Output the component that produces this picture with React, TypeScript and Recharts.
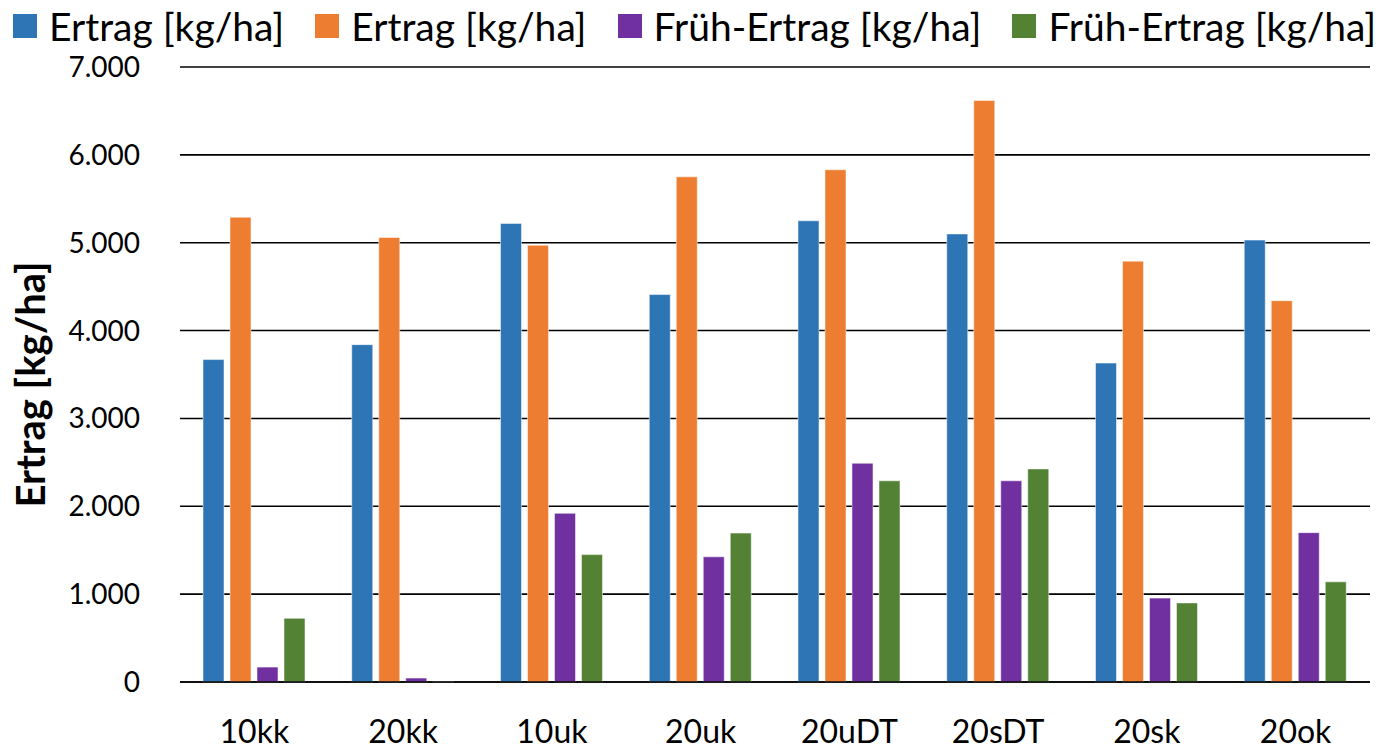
import {
  BarChart,
  Bar,
  CartesianGrid,
  XAxis,
  YAxis,
} from "recharts";

const categories = ["10kk", "20kk", "10uk", "20uk", "20uDT", "20sDT", "20sk", "20ok"];
const ertragA = [3670, 3840, 5220, 4410, 5250, 5100, 3630, 5030];
const ertragB = [5290, 5060, 4970, 5750, 5830, 6620, 4790, 4340];
const fruehA = [170, 45, 1920, 1425, 2490, 2290, 955, 1700];
const fruehB = [725, 8, 1450, 1695, 2290, 2425, 900, 1140];
const yTicks = [0, 1000, 2000, 3000, 4000, 5000, 6000, 7000];

const series = [
  { key: "ertragA", name: "Ertrag [kg/ha]", color: "#2E75B6" },
  { key: "ertragB", name: "Ertrag [kg/ha]", color: "#ED7D31" },
  { key: "fruehA", name: "Früh-Ertrag [kg/ha]", color: "#7030A0" },
  { key: "fruehB", name: "Früh-Ertrag [kg/ha]", color: "#548235" },
];

const data = categories.map((name, i) => ({
  name,
  ertragA: ertragA[i],
  ertragB: ertragB[i],
  fruehA: fruehA[i],
  fruehB: fruehB[i],
}));

const FONT = "Lato, 'Noto Sans', sans-serif";

const formatDe = (v: number) =>
  String(v).replace(/\B(?=(\d{3})+(?!\d))/g, ".");

const YTitle = (props: any) => {
  const { viewBox } = props;
  const cx = viewBox.x + 30;
  const cy = viewBox.y + viewBox.height / 2 + 10;
  return (
    <text
      x={cx}
      y={cy}
      transform={`rotate(-90, ${cx}, ${cy})`}
      textAnchor="middle"
      dominantBaseline="central"
      fontFamily={FONT}
      fontWeight="bold"
      fontSize={40}
      fill="#000"
    >
      Ertrag [kg/ha]
    </text>
  );
};

export default function App() {
  return (
    <div style={{ position: "absolute", left: 0, top: 0, width: 1379, height: 749, background: "#fff" }}>
      <div
        style={{
          position: "absolute",
          top: 3,
          left: 13,
          display: "flex",
          alignItems: "center",
          fontFamily: FONT,
          fontSize: 39,
          color: "#000",
          whiteSpace: "nowrap",
        }}
      >
        {series.map((s) => (
          <div key={s.key} style={{ display: "flex", alignItems: "center", marginRight: 31 }}>
            <span style={{ display: "inline-block", width: 24, height: 24, background: s.color, marginRight: 12 }} />
            <span>{s.name}</span>
          </div>
        ))}
      </div>
      <BarChart
        width={1379}
        height={749}
        data={data}
        margin={{ top: 67, right: 9, bottom: 0, left: 0 }}
        barSize={21}
        barGap={6}
      >
        <CartesianGrid vertical={false} stroke="#000" strokeWidth={1.6} />
        <XAxis
          dataKey="name"
          height={67}
          tickLine={false}
          axisLine={{ stroke: "#000", strokeWidth: 1.6 }}
          tickSize={0}
          tickMargin={38}
          tick={{ fontFamily: FONT, fontSize: 32, fill: "#000" }}
        />
        <YAxis
          width={180}
          domain={[0, 7000]}
          ticks={yTicks}
          interval={0}
          tickLine={false}
          axisLine={false}
          tickSize={0}
          tickMargin={40}
          tickFormatter={formatDe}
          tick={{ fontFamily: FONT, fontSize: 28, fill: "#000" }}
          label={<YTitle />}
        />
        {series.map((s) => (
          <Bar
            key={s.key}
            dataKey={s.key}
            name={s.name}
            fill={s.color}
            stroke="#ffffff"
            strokeOpacity={0.5}
            strokeWidth={1}
            isAnimationActive={false}
          />
        ))}
      </BarChart>
    </div>
  );
}
